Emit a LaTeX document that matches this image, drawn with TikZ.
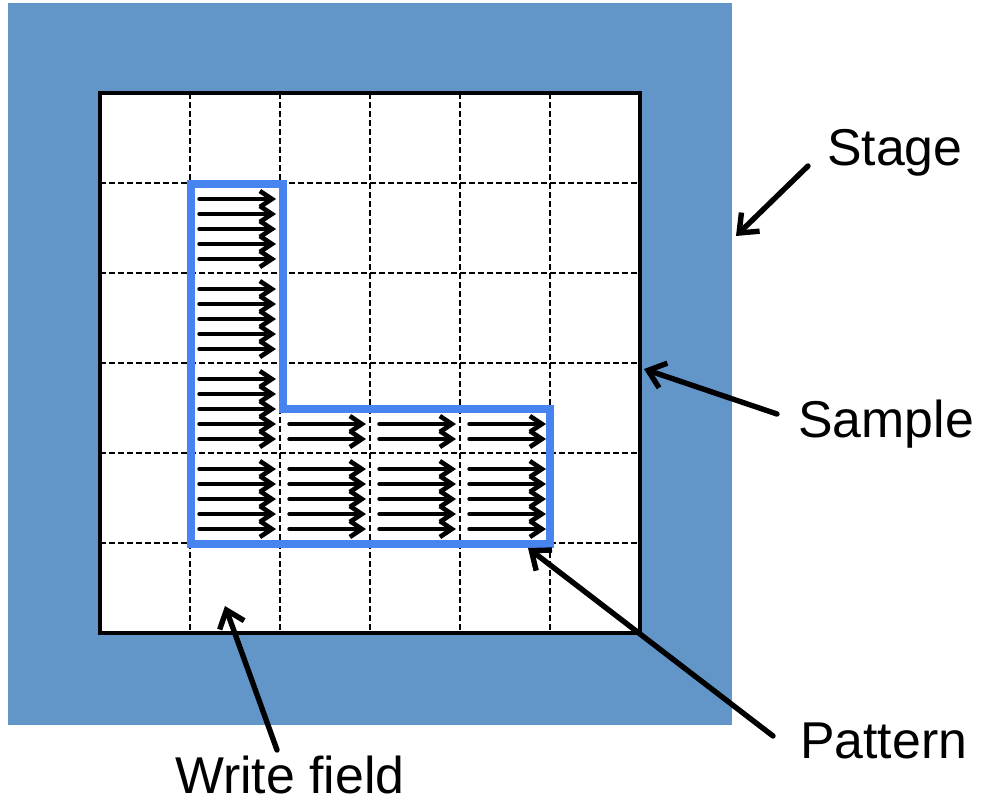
\documentclass[tikz,border=0pt]{standalone}
\usepackage{fontspec}
\setmainfont{Liberation Sans}
\usetikzlibrary{arrows.meta}
\definecolor{stageblue}{RGB}{98,150,200}
\definecolor{patblue}{RGB}{72,132,240}
\begin{document}
\begin{tikzpicture}[x=1bp,y=-1bp,
  lbl/.style={font=\fontsize{52}{60}\selectfont, inner sep=0pt, anchor=base west},
  scan/.style={line width=3.4bp, line cap=round,
    -{Straight Barb[length=12bp,width=16bp,line width=4.6bp]}},
  conn/.style={line width=5.4bp, line cap=round,
    -{Straight Barb[length=16bp,width=26bp,line width=5.4bp]}},
  gridline/.style={line width=2.2bp, dash pattern=on 6bp off 3bp},
  patline/.style={draw=patblue, line width=8bp, line join=miter}]
\useasboundingbox (0,0) rectangle (982,803);
% stage
\fill[stageblue] (8,3) rectangle (732,725);
% sample
\fill[white] (100,93) rectangle (640,633);
\foreach \i in {1,...,5}{
  \draw[gridline] (100+90*\i,93) -- (100+90*\i,633);
  \draw[gridline] (100,93+90*\i) -- (640,93+90*\i);
}
% scan arrows, first column
\foreach \r in {0,...,3}{
  \foreach \k in {1,...,5}{
    \draw[scan] (199,184+90*\r+15*\k) -- (276,184+90*\r+15*\k);
  }
}
% columns 2-4
\foreach \c in {1,2,3}{
  \foreach \k in {4,5}{
    \draw[scan] (199+90*\c,364+15*\k) -- (276+90*\c,364+15*\k);
  }
  \foreach \k in {1,...,5}{
    \draw[scan] (199+90*\c,454+15*\k) -- (276+90*\c,454+15*\k);
  }
}
% pattern outline
\draw[patline] (191,184) -- (283,184) -- (283,409) -- (550,409) -- (550,544) -- (191,544) -- cycle;
% sample border
\draw[line width=4bp] (100,93) rectangle (640,633);
% labels
\node[lbl] (stage) at (827,165) {Stage};
\node[lbl] (sample) at (798,437) {Sample};
\node[lbl] (pattern) at (800,758) {Pattern};
\node[lbl] (write) at (175,793) {Write field};
% connector ends
\coordinate (stageS) at (808,166);
\coordinate (stageT) at (736,236);
\coordinate (sampleS) at (777,414);
\coordinate (sampleT) at (644,369);
\coordinate (patternS) at (773,736);
\coordinate (patternT) at (528,548);
\coordinate (writeS) at (277,750);
\coordinate (writeT) at (225,606);
\draw[conn] (stageS) -- (stageT);
\draw[conn] (sampleS) -- (sampleT);
\draw[conn] (patternS) -- (patternT);
\draw[conn] (writeS) -- (writeT);
\end{tikzpicture}
\end{document}
